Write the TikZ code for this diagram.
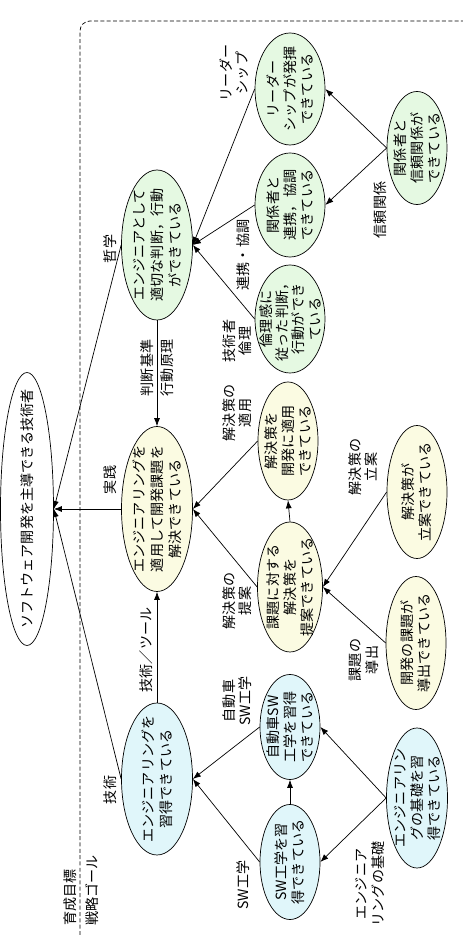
\documentclass[tikz,border=0pt]{standalone}
\usepackage{fontspec}
\setmainfont{Noto Sans CJK JP}
\usepackage{xcolor}
\usepackage{tikz}
\usetikzlibrary{arrows.meta, shapes.geometric}
\definecolor{cgreen}{RGB}{229,249,226}
\definecolor{cyellow}{RGB}{251,251,226}
\definecolor{cblue}{RGB}{224,246,250}

\begin{document}
\begin{tikzpicture}[
    every node/.style={font=\fontsize{12}{14.5}\selectfont, rotate=90, align=center},
    goal/.style={ellipse, draw, line width=0.6pt, inner sep=-1cm},
    esize/.style 2 args={minimum width=#1cm, minimum height=#2cm},
    tag/.style={font=\fontsize{12}{14}\selectfont},
    arr/.style={-{Latex[length=2.4mm, width=1.8mm]}, line width=0.6pt},
]
    \useasboundingbox (0,0) rectangle (13.89,28.05);

    % Boundary
    \draw[dash pattern=on 3.4pt off 2pt, line width=0.6pt, rounded corners=0.3cm]
        (2.40,0) -- (2.40,27.42) -- (13.89,27.42);
    \node[tag, anchor=west] (ikusei) at (2.10,0.15) {育成目標};
    \node[tag, anchor=west] (senryaku) at (2.76,0.15) {戦略ゴール};

    % Root
    \node[goal, esize={8.19}{1.59}] (root) at (0.81,12.78) {ソフトウェア開発を主導できる技術者};

    % Philosophy
    \node[goal, fill=cgreen, esize={4.50}{2.13}, font=\fontsize{12}{15.5}\selectfont] (judge) at (4.71,20.70) {エンジニアとして\\適切な判断，行動\\ができている};
    \node[goal, fill=cgreen, esize={3.36}{2.10}] (leader) at (8.70,25.38) {リーダー\\シップが発揮\\できている};
    \node[goal, fill=cgreen, esize={3.12}{2.10}] (coop) at (8.70,21.90) {関係者と\\連携，協調\\できている};
    \node[goal, fill=cgreen, esize={3.24}{2.10}, font=\fontsize{12}{14}\selectfont] (ethics) at (8.70,18.48) {倫理感に\\従った判断，\\行動ができ\\ている};
    \node[goal, fill=cgreen, esize={3.39}{1.80}] (trust) at (12.51,23.61) {関係者と\\信頼関係が\\できている};

    % Practice
    \node[goal, fill=cyellow, esize={4.95}{2.13}, font=\fontsize{12}{15.5}\selectfont] (practice) at (4.71,12.78) {エンジニアリングを\\適用して開発課題を\\解決できている};
    \node[goal, fill=cyellow, esize={3.54}{1.80}] (apply) at (8.64,14.82) {解決策を\\開発に適用\\できている};
    \node[goal, fill=cyellow, esize={3.90}{1.95}] (propose) at (8.70,10.44) {課題に対する\\解決策を\\提案できている};
    \node[goal, fill=cyellow, esize={3.99}{1.80}] (plan) at (12.51,13.29) {解決策が\\立案できている};
    \node[goal, fill=cyellow, esize={3.99}{1.80}] (derive) at (12.48,8.76) {開発の課題が\\導出できている};

    % Technique
    \node[goal, fill=cblue, esize={4.56}{2.13}, font=\fontsize{12}{15.5}\selectfont] (master) at (4.71,4.68) {エンジニアリングを\\習得できている};
    \node[goal, fill=cblue, esize={3.15}{1.80}] (autosw) at (8.70,6.24) {自動車SW\\工学を習得\\できている};
    \node[goal, fill=cblue, esize={3.45}{1.80}] (swe) at (8.70,2.19) {SW工学を習\\得できている};
    \node[goal, fill=cblue, esize={4.20}{1.83}] (basic) at (12.51,4.11) {エンジニアリン\\グの基礎を習\\得できている};

    % Labels
    \node[tag] (lleader) at (7.02,25.86) {リーダー\\シップ};
    \node[tag] (ltrust) at (11.40,21.75) {信頼関係};
    \node[tag] (lphilo) at (3.30,20.58) {哲学};
    \node[tag] (lcoop) at (7.29,20.40) {連携・協調};
    \node[tag, font=\fontsize{12}{17}\selectfont] (lcrit) at (4.71,17.01) {判断基準\\行動原理};
    \node[tag] (lethics) at (7.11,17.82) {技術者\\倫理};
    \node[tag] (lapply) at (7.11,15.66) {解決策の\\適用};
    \node[tag] (lpract) at (3.30,13.65) {実践};
    \node[tag] (lplan) at (10.89,14.04) {解決策の\\立案};
    \node[tag] (lpropose) at (7.11,10.02) {解決策の\\提案};
    \node[tag] (lderive) at (10.92,8.25) {課題の\\導出};
    \node[tag] (ltool) at (4.38,8.55) {技術／ツール};
    \node[tag] (lautosw) at (7.11,7.02) {自動車\\SW工学};
    \node[tag] (ltech) at (3.30,4.35) {技術};
    \node[tag] (lswe) at (7.29,1.50) {SW工学};
    \node[tag] (lbasic) at (11.10,1.53) {エンジニア\\リングの基礎};

    % Connectors
    \draw[arr] (trust.north) -- (leader.south);
    \draw[arr] (trust.north) -- (coop.south);
    \draw[arr] (leader.north) -- (judge.south);
    \draw[arr] (coop.north) -- (judge.south);
    \draw[arr] (ethics.north) -- (judge.south);
    \draw[arr] (judge.north) -- (root.south);
    \draw[arr] (judge.west) -- (practice.east);

    \draw[arr] (plan.north) -- (propose.south);
    \draw[arr] (derive.north) -- (propose.south);
    \draw[arr] (propose.east) -- (apply.west);
    \draw[arr] (apply.north) -- (practice.south);
    \draw[arr] (propose.north) -- (practice.south);
    \draw[arr] (practice.north) -- (root.south);

    \draw[arr] (basic.north) -- (autosw.south);
    \draw[arr] (basic.north) -- (swe.south);
    \draw[arr] (swe.east) -- (autosw.west);
    \draw[arr] (autosw.north) -- (master.south);
    \draw[arr] (swe.north) -- (master.south);
    \draw[arr] (master.east) -- (practice.west);
    \draw[arr] (master.north) -- (root.south);
\end{tikzpicture}
\end{document}
